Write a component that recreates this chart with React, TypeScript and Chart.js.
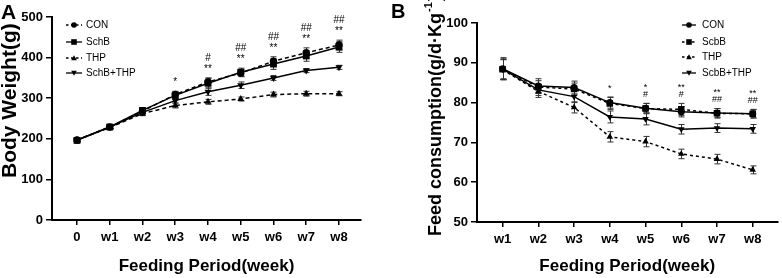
import React, { useEffect, useRef } from 'react';
import { Chart, registerables } from 'chart.js';

Chart.register(...registerables);

const FONT = '"Liberation Sans", Arial, Helvetica, sans-serif';

// ---------- Panel A : body weight ----------
const weeksA = ['0', 'w1', 'w2', 'w3', 'w4', 'w5', 'w6', 'w7', 'w8'];
const conA = [197, 229, 268, 309, 340, 362, 391, 412, 431];
const schbA = [196, 229, 270, 307, 337, 364, 384, 404, 426];
const thpA = [197, 228, 262, 282, 291, 298, 309, 311, 311];
const comboA = [197, 229, 265, 294, 316, 332, 350, 368, 376];
const conErrA = [5, 4, 5, 8, 10, 9, 11, 12, 12];
const schbErrA = [5, 4, 6, 8, 12, 10, 13, 13, 13];
const thpErrA = [4, 4, 5, 6, 6, 5, 6, 6, 5];
const comboErrA = [4, 4, 5, 6, 9, 8, 6, 5, 5];
const sigLowA = ['', '', '', '*', '**', '**', '**', '**', '**'];
const sigHighA = ['', '', '', '', '#', '##', '##', '##', '##'];
const yTicksA = [0, 100, 200, 300, 400, 500];

// ---------- Panel B : feed consumption ----------
const weeksB = ['w1', 'w2', 'w3', 'w4', 'w5', 'w6', 'w7', 'w8'];
const conB = [88.5, 84.2, 83.8, 80.0, 78.6, 77.7, 77.4, 77.2];
const schbB = [88.4, 83.9, 83.4, 79.8, 78.5, 78.3, 77.3, 77.2];
const thpB = [88.3, 82.8, 78.8, 71.4, 70.2, 67.1, 65.8, 63.1];
const comboB = [88.4, 83.2, 81.5, 76.4, 75.9, 73.3, 73.6, 73.4];
const conErrB = [2.8, 1.8, 1.6, 1.4, 1.2, 1.3, 1.1, 1.0];
const schbErrB = [2.6, 1.6, 1.5, 1.5, 1.3, 1.5, 1.2, 1.1];
const thpErrB = [2.5, 1.5, 1.4, 1.3, 1.3, 1.2, 1.2, 1.0];
const comboErrB = [2.4, 1.4, 1.5, 1.5, 1.5, 1.2, 1.1, 1.1];
const sigLowB = ['', '', '', '*', '#', '#', '##', '##'];
const sigHighB = ['', '', '', '', '*', '**', '**', '**'];
const yTicksB = [50, 60, 70, 80, 90, 100];

type Shape = 'circle' | 'rect' | 'triangle' | 'down';
interface Series {
  label: string;
  values: number[];
  errors: number[];
  shape: Shape;
  dashed: boolean;
}

interface PanelCfg {
  width: number;
  area: { left: number; right: number; top: number; bottom: number };
  xMin: number;
  xMax: number;
  labels: string[];
  yTicks: number[];
  series: Series[];
  letter: string;
  letterFont: number;
  letterY: number;
  yTitle: { x: number; bottom: number; size: number; text: string; sup?: string; tail?: string };
  xTitle: string;
  legend: { x0: number; x1: number; textX: number; rows: number[] };
  sigLow: string[];
  sigHigh: string[];
  sigFont: number;
  sigGap1: number;
  sigGap2: number;
  dash: number[];
  radius: number;
}

const seriesA: Series[] = [
  { label: 'CON', values: conA, errors: conErrA, shape: 'circle', dashed: true },
  { label: 'SchB', values: schbA, errors: schbErrA, shape: 'rect', dashed: false },
  { label: 'THP', values: thpA, errors: thpErrA, shape: 'triangle', dashed: true },
  { label: 'SchB+THP', values: comboA, errors: comboErrA, shape: 'down', dashed: false },
];

const seriesB: Series[] = [
  { label: 'CON', values: conB, errors: conErrB, shape: 'circle', dashed: false },
  { label: 'ScbB', values: schbB, errors: schbErrB, shape: 'rect', dashed: true },
  { label: 'THP', values: thpB, errors: thpErrB, shape: 'triangle', dashed: true },
  { label: 'ScbB+THP', values: comboB, errors: comboErrB, shape: 'down', dashed: false },
];

const panelA: PanelCfg = {
  width: 390,
  area: { left: 52, right: 361, top: 17, bottom: 220 },
  xMin: -0.763,
  xMax: 8.672,
  labels: weeksA,
  yTicks: yTicksA,
  series: seriesA,
  letter: 'A',
  letterFont: 21,
  letterY: 19,
  yTitle: { x: 10.5, bottom: 178, size: 21, text: 'Body Weight(g)' },
  xTitle: 'Feeding Period(week)',
  legend: { x0: 66, x1: 82, textX: 86, rows: [25, 42, 58, 73] },
  sigLow: sigLowA,
  sigHigh: sigHighA,
  sigFont: 10,
  sigGap1: 9,
  sigGap2: 19.5,
  dash: [4, 3],
  radius: 4,
};

const panelB: PanelCfg = {
  width: 392,
  area: { left: 87, right: 392, top: 23, bottom: 222 },
  xMin: -0.716,
  xMax: 7.69,
  labels: weeksB,
  yTicks: yTicksB,
  series: seriesB,
  letter: 'B',
  letterFont: 20,
  letterY: 18,
  yTitle: { x: 46, bottom: 236, size: 18, text: 'Feed consumption(g/d\u00b7Kg', sup: '-1', tail: ')' },
  xTitle: 'Feeding Period(week)',
  legend: { x0: 682, x1: 696, textX: 702, rows: [25, 42, 57, 73] },
  sigLow: sigLowB,
  sigHigh: sigHighB,
  sigFont: 9,
  sigGap1: 9,
  sigGap2: 16,
  dash: [3, 3],
  radius: 3.8,
};

function drawMarker(ctx: CanvasRenderingContext2D, shape: Shape, x: number, y: number, r: number) {
  ctx.beginPath();
  if (shape === 'circle') ctx.arc(x, y, r, 0, Math.PI * 2);
  else if (shape === 'rect') ctx.rect(x - r, y - r, 2 * r, 2 * r);
  else if (shape === 'triangle') {
    ctx.moveTo(x, y - r);
    ctx.lineTo(x + r, y + r * 0.8);
    ctx.lineTo(x - r, y + r * 0.8);
  } else {
    ctx.moveTo(x, y + r);
    ctx.lineTo(x + r, y - r * 0.8);
    ctx.lineTo(x - r, y - r * 0.8);
  }
  ctx.closePath();
  ctx.fill();
}

function makeChart(canvas: HTMLCanvasElement, p: PanelCfg, offsetX: number) {
  const tickFont = { family: FONT, size: 13, weight: 'bold' as const };
  const datasets = p.series.map((s) => ({
    label: s.label,
    data: s.values.map((y, i) => ({ x: i, y })),
    borderColor: '#000',
    backgroundColor: '#000',
    borderWidth: 1.5,
    borderDash: s.dashed ? p.dash : [],
    pointStyle: s.shape === 'down' ? 'triangle' : s.shape,
    rotation: s.shape === 'down' ? 180 : 0,
    pointRadius: s.shape === 'rect' ? p.radius + 0.8 : s.shape === 'circle' ? p.radius - 0.3 : p.radius,
    pointBorderWidth: 0,
    pointBackgroundColor: '#000',
    tension: 0,
  }));

  const overlay = {
    id: 'overlay' + p.letter,
    beforeDatasetsDraw(chart: any) {
      const ctx = chart.ctx as CanvasRenderingContext2D;
      const xs = chart.scales.x;
      const ys = chart.scales.y;
      ctx.save();
      ctx.strokeStyle = '#333';
      ctx.lineWidth = 1;
      p.series.forEach((s) => {
        s.values.forEach((v, i) => {
          const e = s.errors[i];
          const px = Math.round(xs.getPixelForValue(i)) + 0.5;
          const t = ys.getPixelForValue(v + e);
          const b = ys.getPixelForValue(v - e);
          ctx.beginPath();
          ctx.moveTo(px, t);
          ctx.lineTo(px, b);
          ctx.moveTo(px - 3, t);
          ctx.lineTo(px + 3, t);
          ctx.moveTo(px - 3, b);
          ctx.lineTo(px + 3, b);
          ctx.stroke();
        });
      });
      ctx.restore();
    },
    afterDraw(chart: any) {
      const ctx = chart.ctx as CanvasRenderingContext2D;
      const xs = chart.scales.x;
      const ys = chart.scales.y;
      ctx.save();
      ctx.fillStyle = '#000';

      // significance marks
      ctx.font = `${p.sigFont}px ${FONT}`;
      ctx.textAlign = 'center';
      ctx.textBaseline = 'middle';
      p.labels.forEach((_, i) => {
        let top = Infinity;
        p.series.forEach((s) => {
          top = Math.min(top, ys.getPixelForValue(s.values[i] + s.errors[i]));
        });
        const px = xs.getPixelForValue(i);
        if (p.sigLow[i]) ctx.fillText(p.sigLow[i], px, top - p.sigGap1);
        if (p.sigHigh[i]) ctx.fillText(p.sigHigh[i], px, top - p.sigGap2);
      });

      // legend
      ctx.font = `10px ${FONT}`;
      ctx.textAlign = 'left';
      p.series.forEach((s, k) => {
        const y = p.legend.rows[k];
        const x0 = p.legend.x0 - offsetX;
        const x1 = p.legend.x1 - offsetX;
        ctx.strokeStyle = '#000';
        ctx.lineWidth = 1.3;
        ctx.setLineDash(s.dashed ? [2.5, 2.5] : []);
        ctx.beginPath();
        ctx.moveTo(x0, y);
        ctx.lineTo(x1, y);
        ctx.stroke();
        ctx.setLineDash([]);
        drawMarker(ctx, s.shape, (x0 + x1) / 2, y, 2.8);
        ctx.fillText(s.label, p.legend.textX - offsetX, y + 0.5);
      });

      // y title
      ctx.save();
      ctx.translate(p.yTitle.x, p.yTitle.bottom);
      ctx.rotate(-Math.PI / 2);
      ctx.textAlign = 'left';
      ctx.textBaseline = 'middle';
      ctx.font = `bold ${p.yTitle.size}px ${FONT}`;
      ctx.fillText(p.yTitle.text, 0, 0);
      if (p.yTitle.sup) {
        let w = ctx.measureText(p.yTitle.text).width;
        ctx.font = `bold ${Math.round(p.yTitle.size * 0.6)}px ${FONT}`;
        ctx.fillText(p.yTitle.sup, w + 1, -p.yTitle.size * 0.4);
        w += ctx.measureText(p.yTitle.sup).width + 2;
        ctx.font = `bold ${p.yTitle.size}px ${FONT}`;
        ctx.fillText(p.yTitle.tail || '', w, 0);
      }
      ctx.restore();

      // panel letter
      ctx.font = `bold ${p.letterFont}px ${FONT}`;
      ctx.textAlign = 'left';
      ctx.textBaseline = 'alphabetic';
      ctx.fillText(p.letter, 1, p.letterY);
      ctx.restore();
    },
  };

  return new Chart(canvas, {
    type: 'line',
    data: { datasets: datasets as any },
    options: {
      responsive: false,
      animation: false,
      devicePixelRatio: 1,
      layout: {
        padding: { left: 0, right: p.width - p.area.right, top: p.area.top, bottom: 0 },
      },
      plugins: { legend: { display: false }, tooltip: { enabled: false } },
      scales: {
        x: {
          type: 'linear',
          min: p.xMin,
          max: p.xMax,
          afterBuildTicks: (s: any) => {
            s.ticks = p.labels.map((_, i) => ({ value: i }));
          },
          afterFit: (s: any) => {
            s.height = 278 - p.area.bottom;
          },
          ticks: {
            callback: (v: any) => p.labels[Math.round(Number(v))] ?? '',
            font: tickFont,
            color: '#000',
            padding: 5,
            autoSkip: false,
            maxRotation: 0,
          },
          grid: {
            display: true,
            drawOnChartArea: false,
            drawTicks: true,
            tickLength: 5,
            color: '#000',
            lineWidth: 1.5,
          },
          border: { display: true, color: '#000', width: 2 },
          title: {
            display: true,
            text: p.xTitle,
            color: '#000',
            font: { family: FONT, size: 17, weight: 'bold', lineHeight: 1.2 },
            padding: { top: 0, bottom: 1 },
          },
        },
        y: {
          type: 'linear',
          min: p.yTicks[0],
          max: p.yTicks[p.yTicks.length - 1],
          afterBuildTicks: (s: any) => {
            s.ticks = p.yTicks.map((v) => ({ value: v }));
          },
          afterFit: (s: any) => {
            s.width = p.area.left;
          },
          ticks: { font: tickFont, color: '#000', padding: 3 },
          grid: {
            display: true,
            drawOnChartArea: false,
            drawTicks: true,
            tickLength: 6,
            color: '#000',
            lineWidth: 1.5,
          },
          border: { display: true, color: '#000', width: 2 },
        },
      },
    } as any,
    plugins: [overlay],
  });
}

function Panel({ cfg, left }: { cfg: PanelCfg; left: number }) {
  const ref = useRef<HTMLCanvasElement | null>(null);
  useEffect(() => {
    if (!ref.current) return;
    const chart = makeChart(ref.current, cfg, left);
    return () => chart.destroy();
  }, [cfg, left]);
  return (
    <canvas
      ref={ref}
      width={cfg.width}
      height={278}
      style={{ position: 'absolute', left, top: 0, width: cfg.width, height: 278 }}
    />
  );
}

export default function App() {
  return (
    <div style={{ position: 'absolute', left: 0, top: 0, width: 782, height: 278, background: '#fff' }}>
      <Panel cfg={panelA} left={0} />
      <Panel cfg={panelB} left={390} />
    </div>
  );
}
